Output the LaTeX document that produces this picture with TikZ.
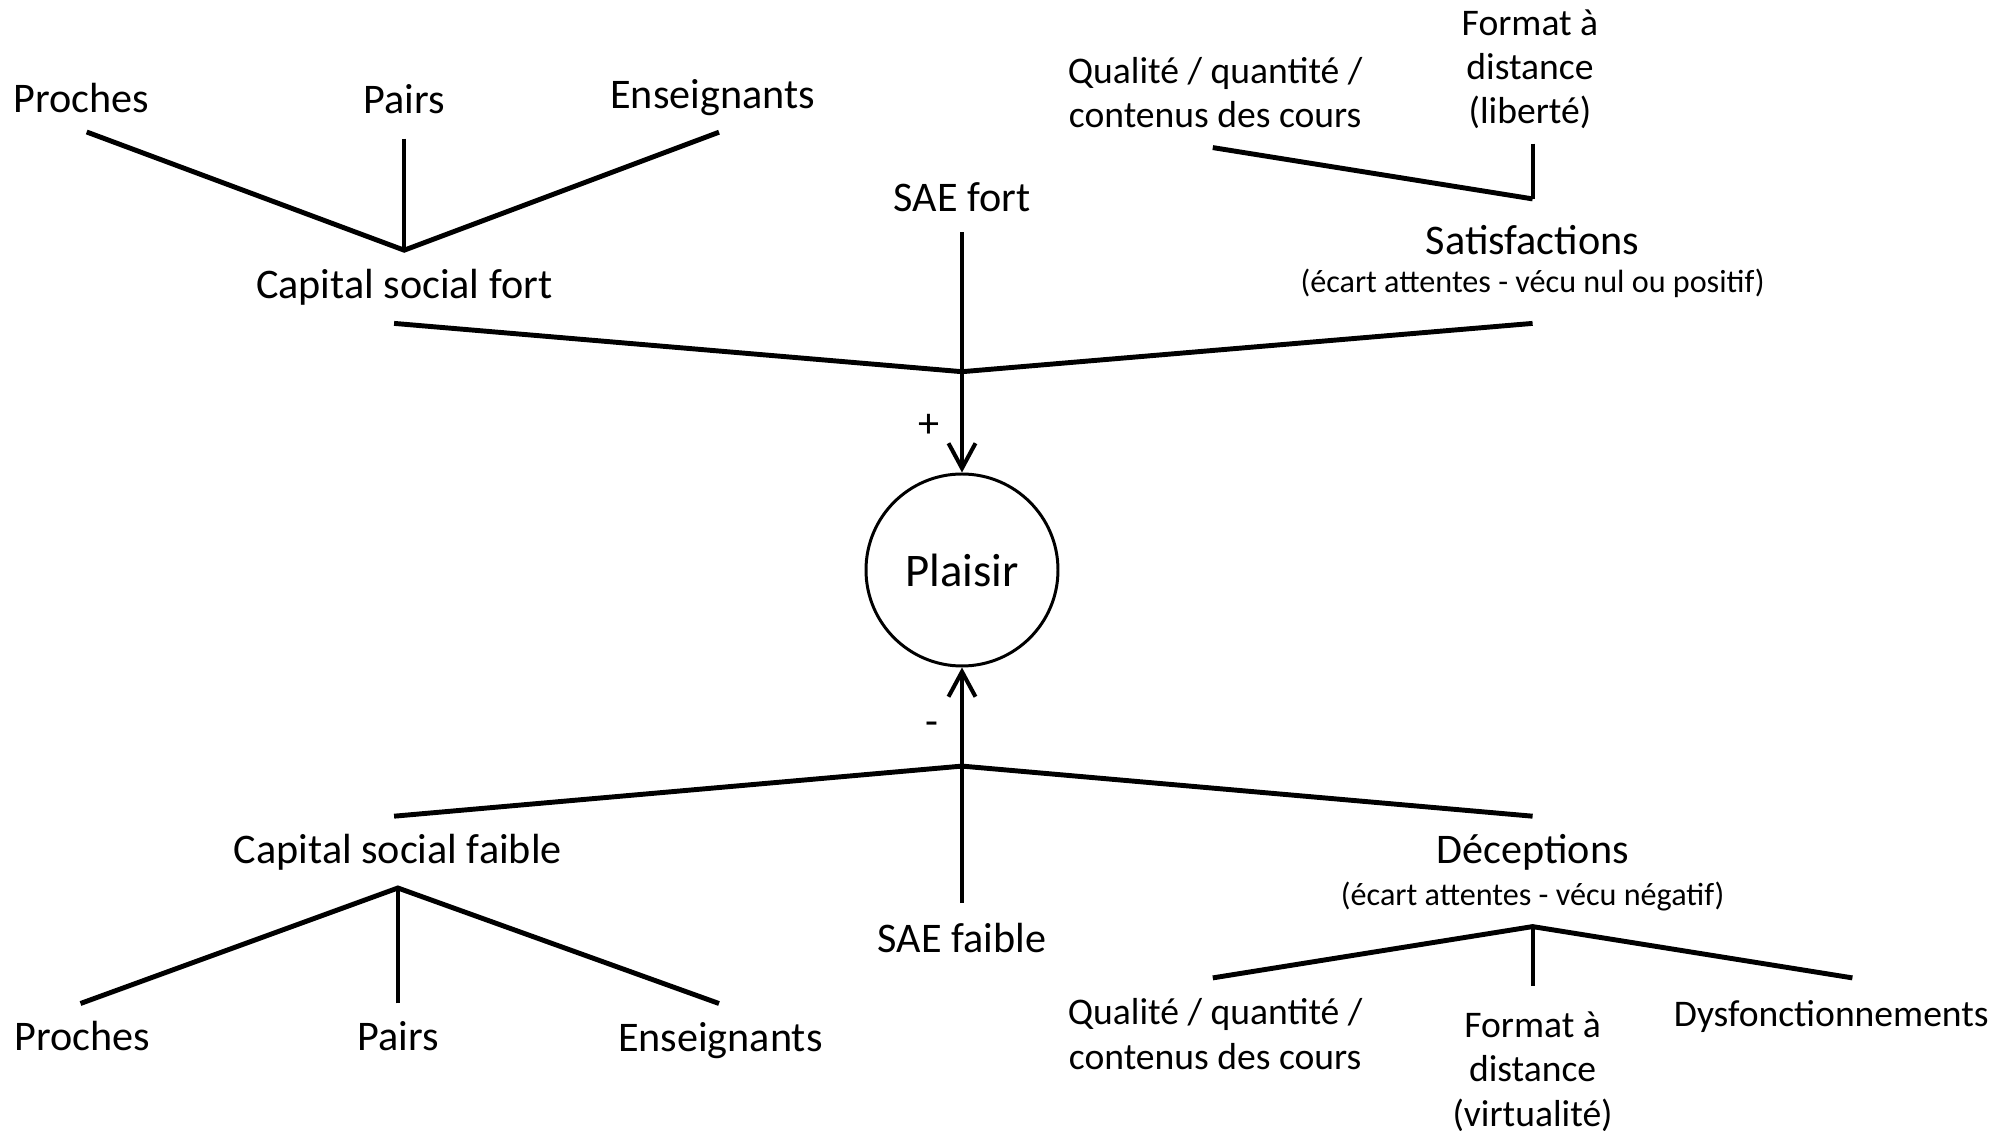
\documentclass[tikz,border=0pt]{standalone}
\usepackage{fontspec}
\setmainfont{Carlito}
\usetikzlibrary{arrows.meta}

\begin{document}
\begin{tikzpicture}[
    label/.style={font=\fontsize{12}{12.6}\selectfont, align=center, inner sep=2pt},
    leaf/.style={label, font=\fontsize{10.7}{12.6}\selectfont},
    sublabel/.style={font=\fontsize{9.15}{11}\selectfont, inner sep=1pt},
    sae/.style={label, inner sep=5.5pt},
    branch/.style={line width=1.4pt},
    stem/.style={line width=1.15pt},
    arrow/.style={line width=1.15pt, -{Straight Barb[length=2.5mm,width=2.7mm,line width=1.15pt]}},
    centre/.style={circle, draw, line width=0.85pt, minimum size=1.92cm, inner sep=0pt,
        font=\fontsize{13.3}{14}\selectfont}
]
    \useasboundingbox (0,0) rectangle (20.02,11.31);

    % Noeud central
    \node[centre] (plaisir) at (9.62,5.61) {Plaisir};

    % Capital social fort
    \node[label] (proches1) at (0.812,10.325) {Proches};
    \node[label] (pairs1) at (4.042,10.32) {Pairs};
    \node[label] (ens1) at (7.126,10.335) {Enseignants};
    \node[label] (csfort) at (4.042,8.435) {Capital social fort};
    \coordinate (pro1e) at (0.867,9.99);
    \coordinate (pai1e) at (4.042,9.924);
    \coordinate (ens1e) at (7.19,9.988);
    \coordinate (jcf) at (4.042,8.808);
    \draw[branch] (pro1e) -- (jcf) -- (ens1e);
    \draw[stem] (pai1e) -- (jcf);

    % Satisfactions
    \node[leaf] (qual1) at (12.152,10.386) {Qualité / quantité /\\contenus des cours};
    \node[leaf] (fmt1) at (15.30,10.617) {Format à\\distance\\(liberté)};
    \node[label] (satis) at (15.326,8.91) {Satisfactions};
    \node[sublabel] (satsub) at (15.326,8.474) {(écart attentes - vécu nul ou positif)};
    \coordinate (qual1e) at (12.128,9.834);
    \coordinate (fmt1e) at (15.326,9.873);
    \coordinate (jsat) at (15.326,9.321);
    \draw[branch] (qual1e) -- (jsat);
    \draw[stem] (fmt1e) -- (jsat);

    % SAE fort -> Plaisir
    \node[sae] (saefort) at (9.62,9.334) {SAE fort};
    \node[label] (plus) at (9.29,7.05) {+};
    \coordinate (cfe) at (3.941,8.076);
    \coordinate (j1) at (9.62,7.593);
    \coordinate (sate) at (15.326,8.076);
    \draw[branch] (cfe) -- (j1) -- (sate);
    \draw[arrow] (saefort.south) -- (plaisir.north);

    % SAE faible -> Plaisir
    \node[sae] (saefaible) at (9.62,1.93) {SAE faible};
    \node[label] (moins) at (9.315,4.02) {-};
    \coordinate (cfae) at (3.941,3.148);
    \coordinate (j2) at (9.62,3.649);
    \coordinate (dece) at (15.326,3.148);
    \draw[branch] (cfae) -- (j2) -- (dece);
    \draw[arrow] (saefaible.north) -- (plaisir.south);

    % Capital social faible
    \node[label] (csfaible) at (3.979,2.789) {Capital social faible};
    \node[label] (proches2) at (0.825,0.95) {Proches};
    \node[label] (pairs2) at (3.979,0.95) {Pairs};
    \node[label] (ens2) at (7.203,0.902) {Enseignants};
    \coordinate (jcfa) at (3.979,2.43);
    \coordinate (pro2e) at (0.805,1.275);
    \coordinate (pai2e) at (3.979,1.275);
    \coordinate (ens2e) at (7.19,1.275);
    \draw[branch] (pro2e) -- (jcfa) -- (ens2e);
    \draw[stem] (pai2e) -- (jcfa);

    % Deceptions
    \node[label] (decep) at (15.326,2.789) {Déceptions};
    \node[sublabel] (decsub) at (15.326,2.34) {(écart attentes - vécu négatif)};
    \node[leaf] (qual2) at (12.152,0.97) {Qualité / quantité /\\contenus des cours};
    \node[leaf] (fmt2) at (15.326,0.594) {Format à\\distance\\(virtualité)};
    \node[leaf] (dysf) at (18.313,1.146) {Dysfonctionnements};
    \coordinate (jdec) at (15.326,2.044);
    \coordinate (qual2e) at (12.128,1.531);
    \coordinate (fmt2e) at (15.326,1.454);
    \coordinate (dysfe) at (18.524,1.531);
    \draw[branch] (qual2e) -- (jdec) -- (dysfe);
    \draw[stem] (fmt2e) -- (jdec);
\end{tikzpicture}
\end{document}
